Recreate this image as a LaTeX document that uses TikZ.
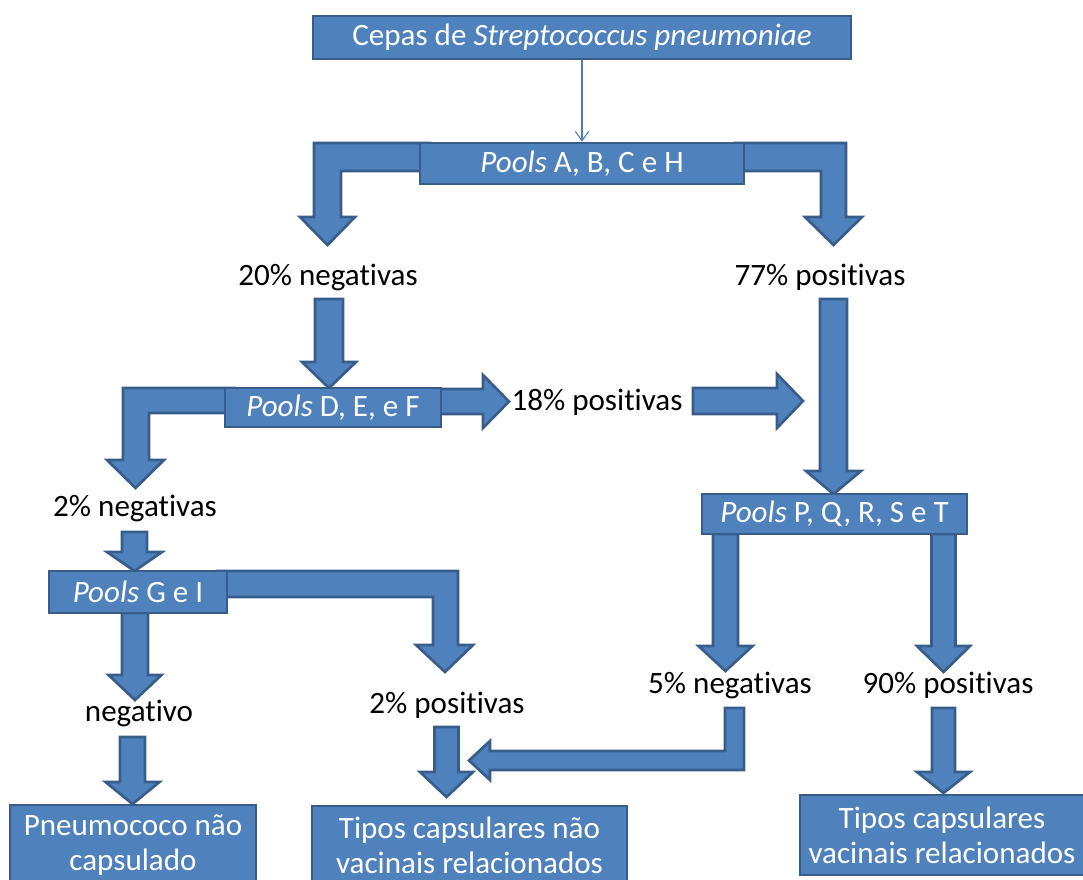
\documentclass[tikz,border=0pt]{standalone}
\usepackage{fontspec}
\setmainfont{Carlito}[Ligatures=NoCommon]
\usetikzlibrary{arrows.meta}
\definecolor{boxblue}{HTML}{4F81BD}
\definecolor{boxedge}{HTML}{385D8A}
\definecolor{thinblue}{HTML}{4A7EBB}
% down block arrow: centre x, shaft top, head base, tip, half shaft, half head
\newcommand\DArr[6]{\draw[blk] ({#1-#5},#2) -- ({#1+#5},#2) -- ({#1+#5},#3) -- ({#1+#6},#3) -- (#1,#4) -- ({#1-#6},#3) -- ({#1-#5},#3) -- cycle;}
% right block arrow: centre y, shaft start, head base, tip, half shaft, half head
\newcommand\RArr[6]{\draw[blk] (#2,{#1-#5}) -- (#3,{#1-#5}) -- (#3,{#1-#6}) -- (#4,#1) -- (#3,{#1+#6}) -- (#3,{#1+#5}) -- (#2,{#1+#5}) -- cycle;}
\begin{document}
\begin{tikzpicture}[x=0.75pt,y=-0.75pt,
  blk/.style={fill=boxblue,draw=boxedge,line width=2pt,line join=miter},
  box/.style={fill=boxblue,draw=boxedge,line width=2pt,text=white,inner sep=0pt,align=center},
  lbl/.style={text=black,inner sep=0pt},
  thinarrow/.style={draw=thinblue,line width=0.8pt,-{Straight Barb[length=7pt,width=10pt,line width=0.8pt]}},
  font=\fontsize{23.3}{26.5}\selectfont]
\useasboundingbox (0,0) rectangle (1083,880);

% ---- block arrows (behind boxes) ----
% from Pools A,B,C e H
\draw[blk] (430,143) -- (314,143) -- (314,217) -- (300,217) -- (327.5,245) -- (355,217) -- (341,217) -- (341,171) -- (430,171) -- cycle;
\draw[blk] (735,143) -- (846,143) -- (846,217) -- (862,217) -- (833.5,245) -- (805,217) -- (821,217) -- (821,171) -- (735,171) -- cycle;
% 20% negativas -> Pools D,E,F
\DArr{329}{299}{362}{388}{14}{27}
% Pools D,E,F left bend
\draw[blk] (235,388) -- (123,388) -- (123,460) -- (107,460) -- (135.5,488) -- (164,460) -- (149,460) -- (149,413) -- (235,413) -- cycle;
% Pools D,E,F -> 18%
\RArr{401.5}{430}{483}{509}{12.5}{26.5}
% 18% -> 77% column
\RArr{401}{693}{777}{803}{13}{27}
% 77% positivas -> Pools P..T
\DArr{833.5}{299}{471}{494}{13.5}{27.5}
% Pools P..T -> 5% / 90%
\DArr{725.5}{534}{646}{671}{12.5}{27}
\DArr{943.5}{534}{646}{672}{12}{26.5}
% 2% negativas -> Pools G e I
\DArr{134.5}{532}{552}{571}{12.5}{27.5}
% Pools G e I right bend
\draw[blk] (217,571) -- (458,571) -- (458,645) -- (473,645) -- (445,672) -- (416,645) -- (433,645) -- (433,597) -- (217,597) -- cycle;
% Pools G e I -> negativo
\DArr{135}{613}{675}{700}{13}{26.5}
% negativo -> Pneumococo
\DArr{132.5}{737}{782}{804}{12.5}{27}
% 2% positivas -> Tipos nao vacinais
\DArr{446.5}{727}{772}{797}{12}{26.5}
% 5% negativas -> Tipos nao vacinais (bent)
\draw[blk] (725,708) -- (744,708) -- (744,770) -- (490,770) -- (490,780) -- (469,760.5) -- (490,741) -- (490,751) -- (725,751) -- cycle;
% 90% positivas -> Tipos vacinais
\DArr{943.5}{708}{772}{793}{11.5}{26.5}

% ---- boxes ----
\node[box,minimum width={538*0.75pt},minimum height={43*0.75pt}] (cepas) at (582,37.5) {Cepas de \textit{Streptococcus pneumoniae}};
\node[box,minimum width={324*0.75pt},minimum height={41*0.75pt}] (abch) at (582,163.5) {\textit{Pools} A, B, C e H};
\node[box,minimum width={216*0.75pt},minimum height={39*0.75pt}] (def) at (333,407.5) {\textit{Pools} D, E, e F};
\node[box,minimum width={265*0.75pt},minimum height={40*0.75pt}] (pqrst) at (834.5,514) {\textit{Pools} P, Q, R, S e T};
\node[box,minimum width={178*0.75pt},minimum height={42*0.75pt}] (gi) at (138,592) {\textit{Pools} G e I};
\node[box,minimum width={246*0.75pt},minimum height={80*0.75pt}] (pneu) at (133,845) {Pneumococo não\\capsulado};
\node[box,minimum width={315*0.75pt},minimum height={78*0.75pt}] (tnv) at (469.5,845) {Tipos capsulares não\\vacinais relacionados};
\node[box,minimum width={284*0.75pt},minimum height={80*0.75pt}] (tv) at (942,835) {Tipos capsulares\\vacinais relacionados};

% thin connector
\draw[thinarrow] (cepas.south) -- (abch.north);

% ---- labels ----
\node[lbl] (n20) at (328,277) {20\% negativas};
\node[lbl] (p77) at (820,277) {77\% positivas};
\node[lbl] (p18) at (597,402) {18\% positivas};
\node[lbl] (n2) at (135,508) {2\% negativas};
\node[lbl] (n5) at (730,685) {5\% negativas};
\node[lbl] (p90) at (948,685) {90\% positivas};
\node[lbl] (neg) at (139,713) {negativo};
\node[lbl] (p2) at (447,705) {2\% positivas};
\end{tikzpicture}
\end{document}
